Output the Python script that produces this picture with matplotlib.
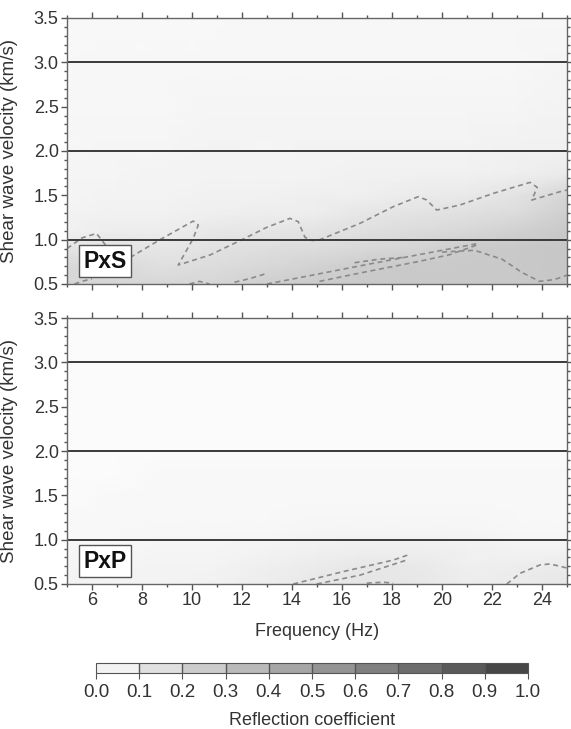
import numpy as np
import matplotlib.pyplot as plt
from matplotlib.colors import LinearSegmentedColormap, BoundaryNorm, Normalize, ListedColormap
from matplotlib.ticker import MultipleLocator
import matplotlib.cm as cm

plt.rcParams['font.family'] = ['Liberation Sans', 'DejaVu Sans']

# sampling grid of the reflection-coefficient maps
freqs = [5, 7, 9, 11, 13, 15, 17, 19, 21, 23, 25]
vels = [0.5, 0.7, 0.9, 1.1, 1.3, 1.5, 1.75, 2.0, 2.5, 3.0, 3.5]

# PxS reflection coefficient (rows follow vels, columns follow freqs)
pxs_coef = [
    [0.20, 0.20, 0.19, 0.20, 0.24, 0.26, 0.27, 0.27, 0.27, 0.27, 0.28],
    [0.19, 0.18, 0.15, 0.17, 0.19, 0.22, 0.25, 0.27, 0.27, 0.27, 0.28],
    [0.12, 0.14, 0.11, 0.14, 0.16, 0.17, 0.19, 0.21, 0.25, 0.27, 0.28],
    [0.06, 0.08, 0.08, 0.11, 0.12, 0.13, 0.15, 0.17, 0.19, 0.23, 0.27],
    [0.05, 0.06, 0.06, 0.07, 0.08, 0.08, 0.12, 0.13, 0.15, 0.17, 0.24],
    [0.04, 0.05, 0.05, 0.06, 0.06, 0.07, 0.07, 0.09, 0.10, 0.13, 0.20],
    [0.04, 0.04, 0.05, 0.05, 0.05, 0.05, 0.06, 0.06, 0.06, 0.07, 0.09],
    [0.03, 0.04, 0.04, 0.05, 0.04, 0.05, 0.05, 0.05, 0.05, 0.06, 0.06],
    [0.03, 0.03, 0.03, 0.04, 0.04, 0.04, 0.04, 0.04, 0.04, 0.04, 0.05],
    [0.02, 0.03, 0.03, 0.03, 0.03, 0.03, 0.03, 0.03, 0.03, 0.03, 0.04],
    [0.02, 0.02, 0.02, 0.02, 0.03, 0.03, 0.03, 0.03, 0.03, 0.03, 0.03],
]

# PxP reflection coefficient
pxp_coef = [
    [0.05, 0.05, 0.05, 0.06, 0.08, 0.11, 0.12, 0.11, 0.08, 0.09, 0.11],
    [0.04, 0.04, 0.05, 0.05, 0.07, 0.09, 0.11, 0.10, 0.07, 0.08, 0.09],
    [0.03, 0.03, 0.04, 0.04, 0.05, 0.06, 0.07, 0.07, 0.06, 0.05, 0.05],
    [0.02, 0.02, 0.03, 0.03, 0.03, 0.04, 0.04, 0.04, 0.04, 0.03, 0.03],
    [0.02, 0.02, 0.02, 0.02, 0.02, 0.03, 0.03, 0.03, 0.03, 0.02, 0.02],
    [0.01, 0.02, 0.02, 0.02, 0.02, 0.02, 0.02, 0.02, 0.02, 0.02, 0.02],
    [0.01, 0.01, 0.02, 0.02, 0.02, 0.02, 0.02, 0.02, 0.02, 0.02, 0.02],
    [0.01, 0.01, 0.01, 0.01, 0.01, 0.01, 0.01, 0.01, 0.01, 0.01, 0.01],
    [0.01, 0.01, 0.01, 0.01, 0.01, 0.01, 0.01, 0.01, 0.01, 0.01, 0.01],
    [0.01, 0.01, 0.01, 0.01, 0.01, 0.01, 0.01, 0.01, 0.01, 0.01, 0.01],
    [0.01, 0.01, 0.01, 0.01, 0.01, 0.01, 0.01, 0.01, 0.01, 0.01, 0.01],
]

# 0.1 contour traces (frequency, velocity)
pxs_contours = [
    ([5.0, 5.6, 6.18, 6.54, 7.0, 7.59, 8.72, 10.05, 10.25, 10.05, 9.45, 10.72, 11.92,
      12.99, 13.92, 14.25, 14.52, 14.8, 15.12, 16.72, 18.05, 19.05, 19.39, 19.79,
      20.72, 22.05, 23.52, 23.81, 23.59, 24.72, 25.0],
     [0.90, 1.02, 1.07, 0.94, 0.80, 0.81, 1.00, 1.21, 1.165, 1.015, 0.714, 0.827, 0.989,
      1.139, 1.24, 1.203, 1.026, 0.99, 1.0, 1.184, 1.372, 1.485, 1.447, 1.334,
      1.391, 1.522, 1.646, 1.59, 1.447, 1.541, 1.56]),
    ([13.0, 15.0, 17.0, 18.5, 20.0, 21.5],
     [0.50, 0.61, 0.72, 0.80, 0.88, 0.96]),
    ([15.1, 17.0, 19.0, 20.3, 21.5],
     [0.53, 0.64, 0.75, 0.83, 0.95]),
    ([16.5, 17.5, 18.5],
     [0.74, 0.78, 0.80]),
    ([20.0, 21.3, 22.4, 23.2, 23.9, 24.5, 25.0],
     [0.86, 0.88, 0.78, 0.63, 0.53, 0.55, 0.60]),
    ([9.9, 10.3, 10.7],
     [0.50, 0.53, 0.50]),
    ([11.7, 12.3, 13.0],
     [0.52, 0.56, 0.62]),
    ([5.3, 5.6, 6.0],
     [0.50, 0.53, 0.56]),
]

pxp_contours = [
    ([14.05, 16.05, 18.05, 18.72],
     [0.50, 0.64, 0.77, 0.835]),
    ([14.99, 16.72, 18.59],
     [0.50, 0.60, 0.77]),
    ([16.99, 17.65, 18.05],
     [0.51, 0.52, 0.51]),
    ([22.59, 23.12, 23.92, 24.32, 24.72, 25.0],
     [0.50, 0.62, 0.715, 0.726, 0.70, 0.68]),
]

guide_vels = [1.0, 2.0, 3.0]
cbar_levels = np.round(np.arange(0, 1.01, 0.1), 1)

gray_map = LinearSegmentedColormap.from_list('refl', ['#fcfcfc', '#3e3e3e'])
norm = Normalize(0, 1)

W, H = 571, 729
fig = plt.figure(figsize=(W / 100, H / 100), dpi=100)
ax_top = fig.add_axes([67 / W, 1 - 284 / H, 500 / W, 266 / H])
ax_bot = fig.add_axes([67 / W, 1 - 584 / H, 500 / W, 266 / H])

F, V = np.meshgrid(freqs, vels)
panels = [(ax_top, pxs_coef, pxs_contours, 'PxS'),
          (ax_bot, pxp_coef, pxp_contours, 'PxP')]

for ax, coef, contours, name in panels:
    ax.pcolormesh(F, V, np.array(coef), cmap=gray_map, norm=norm, shading='gouraud')
    for cf, cv in contours:
        ax.plot(cf, cv, color='#8a8a8a', lw=1.2, linestyle=(0, (3, 2.2)))
    for gv in guide_vels:
        ax.axhline(gv, color='#3a3a3a', lw=1.4)
    ax.set_xlim(5, 25)
    ax.set_ylim(0.5, 3.5)
    ax.xaxis.set_major_locator(MultipleLocator(2))
    ax.xaxis.set_minor_locator(MultipleLocator(1))
    ax.yaxis.set_major_locator(MultipleLocator(0.5))
    ax.yaxis.set_minor_locator(MultipleLocator(0.1))
    ax.tick_params(which='both', direction='out', top=True, right=True,
                   color='#555555', width=1, labelsize=13, labelcolor='#333333', pad=2)
    ax.tick_params(which='major', length=4)
    ax.tick_params(which='minor', length=2)
    for sp in ax.spines.values():
        sp.set_color('#666666')
        sp.set_linewidth(1.0)
    ax.set_ylabel('Shear wave velocity (km/s)', fontsize=13.5, color='#333333')
    ax.yaxis.set_label_coords(-0.098, 0.5)
    ax.text(0.033, 0.085, name, transform=ax.transAxes, fontsize=16.5, fontweight='bold',
            color='#111111', va='center', ha='left',
            bbox=dict(boxstyle='square,pad=0.2', facecolor='white', edgecolor='#555555', lw=1))

ax_top.tick_params(labelbottom=False)
ax_bot.set_xlabel('Frequency (Hz)', fontsize=13, color='#333333', labelpad=10)

# discrete colour scale
ax_cb = fig.add_axes([96 / W, 1 - 673 / H, 432 / W, 10 / H])
mids = (cbar_levels[:-1] + cbar_levels[1:]) / 2
step_map = ListedColormap([gray_map(m) for m in mids])
sm = cm.ScalarMappable(cmap=step_map, norm=BoundaryNorm(cbar_levels, step_map.N))
cb = fig.colorbar(sm, cax=ax_cb, orientation='horizontal', ticks=cbar_levels, drawedges=True)
cb.outline.set_edgecolor('#555555')
cb.dividers.set_color('#555555')
cb.dividers.set_linewidth(1)
cb.ax.set_xticklabels([f'{t:.1f}' for t in cbar_levels])
cb.ax.tick_params(direction='out', length=4, color='#555555', labelsize=13.5,
                  labelcolor='#333333', pad=4)
cb.set_label('Reflection coefficient', fontsize=13, color='#333333', labelpad=8)

fig.savefig('out.png', dpi=100)
